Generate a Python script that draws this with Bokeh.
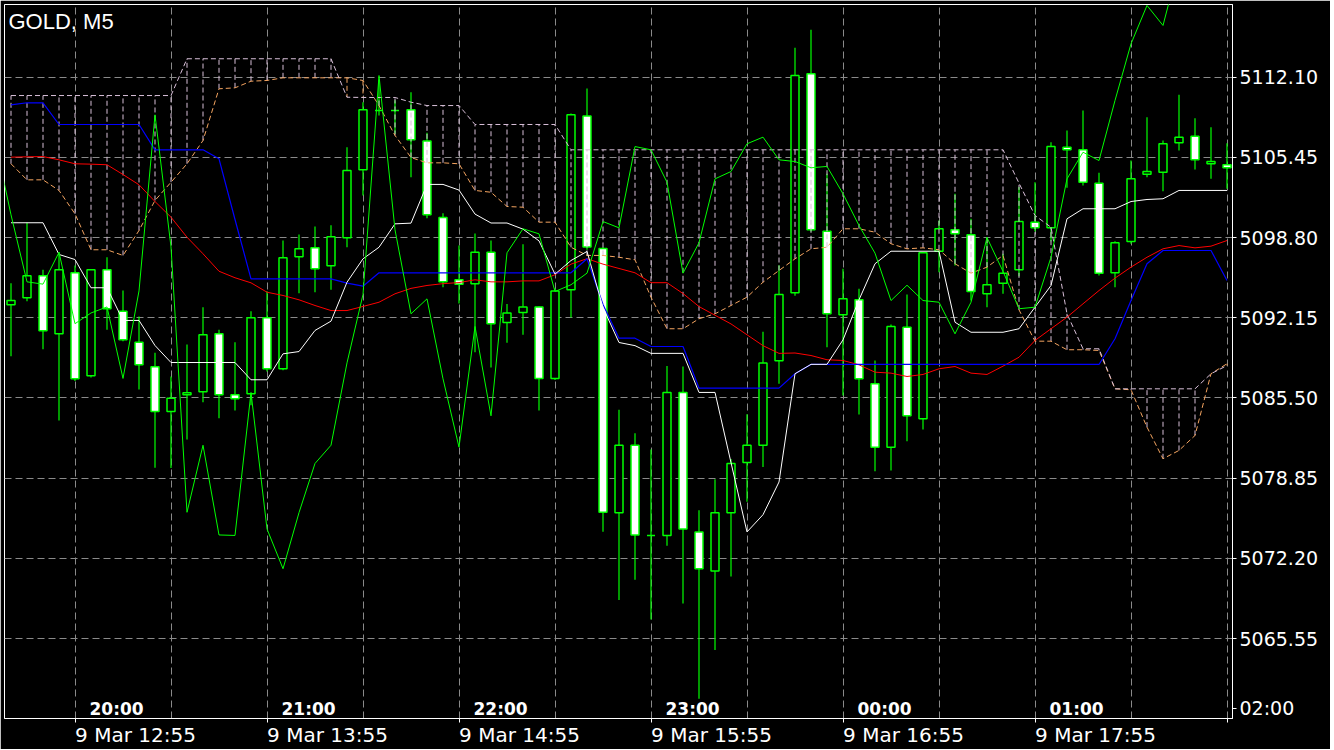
from bokeh.plotting import figure
from bokeh.models import (ColumnDataSource, FixedTicker, Label, Range1d, PrintfTickFormatter,
                          LinearAxis)
from bokeh.embed import file_html
from bokeh.resources import INLINE

# ---------------- data ----------------
open_ = [5093.23, 5093.81, 5095.63, 5090.82, 5095.88, 5087.34, 5096.13, 5092.70, 5090.13, 5088.09,
         5084.38, 5085.76, 5086.01, 5090.82, 5085.76, 5085.85, 5092.15, 5087.92, 5097.21, 5097.95,
         5096.46, 5098.78, 5104.42, 5109.34, 5109.34, 5109.40, 5106.82, 5100.46, 5095.30, 5094.98,
         5097.58, 5091.75, 5092.58, 5093.05, 5087.12, 5094.47, 5108.89, 5097.90, 5075.99, 5081.58,
         5074.10, 5074.10, 5085.96, 5074.39, 5071.15, 5075.99, 5080.14, 5081.58, 5088.58, 5094.23,
         5112.38, 5099.33, 5092.40, 5093.64, 5086.68, 5081.42, 5091.37, 5083.77, 5097.67, 5099.45,
         5099.03, 5094.14, 5095.02, 5096.13, 5100.08, 5099.61, 5106.30, 5106.08, 5103.31, 5095.88,
         5098.48, 5104.06, 5104.22, 5106.66, 5107.21, 5104.92, 5104.84]
high = [5095.02, 5100.03, 5096.13, 5097.60, 5096.49, 5096.20, 5097.17, 5094.41, 5092.26, 5089.25,
        5087.28, 5089.94, 5093.03, 5091.15, 5090.13, 5092.70, 5094.35, 5098.56, 5099.06, 5099.72,
        5099.83, 5106.30, 5110.03, 5111.90, 5110.20, 5110.86, 5107.50, 5100.81, 5098.14, 5099.15,
        5098.56, 5093.30, 5098.24, 5093.10, 5094.60, 5109.10, 5111.17, 5098.00, 5084.52, 5082.58,
        5081.22, 5088.15, 5088.12, 5076.19, 5078.77, 5080.43, 5084.16, 5091.00, 5096.50, 5114.54,
        5116.03, 5104.09, 5096.21, 5094.55, 5088.61, 5091.59, 5094.08, 5097.60, 5100.22, 5102.43,
        5100.36, 5098.83, 5097.46, 5103.00, 5103.39, 5106.71, 5107.68, 5109.34, 5104.17, 5098.50,
        5105.19, 5108.78, 5106.85, 5110.64, 5108.70, 5107.95, 5106.63]
low = [5088.97, 5093.53, 5089.55, 5083.63, 5086.90, 5087.20, 5091.15, 5090.20, 5086.20, 5079.71,
       5079.70, 5082.06, 5085.15, 5083.82, 5084.46, 5084.90, 5087.70, 5087.80, 5094.19, 5094.27,
       5094.47, 5098.00, 5102.29, 5108.92, 5107.40, 5103.81, 5100.40, 5094.68, 5093.34, 5089.30,
       5088.02, 5090.09, 5090.74, 5084.46, 5087.00, 5092.17, 5097.80, 5074.40, 5068.75, 5070.43,
       5067.13, 5073.24, 5068.46, 5060.55, 5064.61, 5070.69, 5076.90, 5079.78, 5086.68, 5093.97,
       5099.30, 5089.71, 5085.71, 5084.13, 5079.43, 5079.49, 5081.92, 5082.89, 5095.93, 5096.49,
       5093.58, 5093.03, 5094.14, 5095.60, 5099.30, 5098.50, 5102.93, 5103.12, 5095.66, 5094.69,
       5098.30, 5103.81, 5102.65, 5106.02, 5104.45, 5103.67, 5102.85]
close = [5093.58, 5095.63, 5091.07, 5096.13, 5087.09, 5096.13, 5092.90, 5090.32, 5088.25, 5084.38,
         5085.48, 5085.93, 5090.74, 5085.76, 5085.43, 5092.15, 5087.92, 5097.12, 5097.87, 5096.21,
         5098.87, 5104.36, 5109.40, 5109.34, 5109.34, 5106.91, 5100.69, 5095.13, 5094.94, 5097.58,
         5091.66, 5092.55, 5093.05, 5087.12, 5094.38, 5108.98, 5098.03, 5076.02, 5081.58, 5074.14,
         5074.10, 5085.96, 5074.64, 5071.34, 5075.99, 5080.07, 5081.58, 5088.41, 5094.08, 5112.24,
         5099.45, 5092.48, 5093.72, 5087.09, 5081.42, 5091.43, 5084.02, 5097.54, 5099.53, 5099.11,
         5094.33, 5094.89, 5095.85, 5100.13, 5099.61, 5106.35, 5106.08, 5103.39, 5095.85, 5098.37,
         5103.67, 5104.28, 5106.58, 5107.13, 5105.25, 5105.11, 5104.59]

# Tenkan-sen (white)
tenkan = [5100.03, 5100.03, 5100.03, 5097.40, 5096.98, 5094.64, 5094.64, 5091.93, 5091.93, 5089.85,
          5088.44, 5088.44, 5088.44, 5088.44, 5088.44, 5087.01, 5087.01, 5089.16, 5089.35, 5091.10,
          5091.87, 5095.10, 5097.04, 5098.00, 5099.94, 5100.00, 5103.21, 5103.21, 5102.74, 5100.75,
          5100.01, 5100.01, 5099.50, 5098.53, 5095.77, 5096.90, 5097.65, 5093.00, 5090.10, 5089.84,
          5089.20, 5089.20, 5089.20, 5085.96, 5085.96, 5080.14, 5074.39, 5075.82, 5078.53, 5087.51,
          5088.29, 5088.29, 5090.32, 5093.64, 5096.63, 5097.67, 5097.67, 5097.67, 5097.67, 5091.78,
          5090.95, 5090.95, 5090.95, 5091.24, 5093.03, 5094.83, 5100.36, 5101.19, 5101.19, 5101.19,
          5101.79, 5101.96, 5102.02, 5102.71, 5102.71, 5102.71, 5102.71]
# Kijun-sen (blue)
kijun = ([5109.81, 5109.98, 5109.98] + [5108.18] * 6 + [5106.08] * 4 + [5105.33, 5100.30]
         + [5095.38] * 6 + [5095.02, 5094.77] + [5095.88] * 13 + [5097.05, 5093.25, 5090.46, 5090.46]
         + [5089.77] * 3 + [5086.32] * 6 + [5087.51] + [5088.28] * 19
         + [5090.41, 5093.58, 5096.63] + [5097.73] * 4 + [5095.24])
# moving average (red)
ma_red = [5105.47, 5105.50, 5105.52, 5105.25, 5104.92, 5104.89, 5104.84, 5104.03, 5103.18, 5101.79,
          5100.49, 5098.83, 5097.46, 5096.01, 5095.47, 5095.05, 5094.27, 5094.00, 5093.64, 5093.17,
          5092.75, 5092.75, 5093.09, 5093.44, 5094.14, 5094.59, 5094.83, 5094.98, 5095.07, 5095.30,
          5095.13, 5095.13, 5095.21, 5095.21, 5095.72, 5096.60, 5097.05, 5096.60, 5096.24, 5095.88,
          5095.06, 5095.06, 5094.16, 5093.08, 5092.36, 5091.64, 5090.74, 5089.84, 5089.20, 5089.23,
          5089.02, 5088.67, 5088.61, 5088.25, 5087.64, 5087.56, 5087.28, 5087.45, 5087.92, 5088.11,
          5087.56, 5087.45, 5088.14, 5088.88, 5090.27, 5091.24, 5092.20, 5093.31, 5094.41, 5095.44,
          5096.35, 5097.17, 5097.87, 5098.14, 5097.95, 5098.09, 5098.56]
# Senkou span A (sandy brown) and B (thistle)
span_a = [5104.92, 5103.59, 5103.59, 5102.71, 5100.77, 5097.79, 5097.79, 5097.32, 5099.39, 5101.88,
          5103.39, 5104.92, 5106.85, 5111.14, 5111.22, 5111.77, 5111.83, 5112.05, 5112.05, 5112.05,
          5112.05, 5112.05, 5111.83, 5109.75, 5107.27, 5105.44, 5105.00, 5105.00, 5104.92, 5102.71,
          5102.56, 5101.38, 5101.32, 5100.08, 5100.08, 5098.00, 5097.32, 5097.32, 5097.17, 5096.96,
          5093.86, 5091.24, 5091.24, 5092.07, 5092.48, 5093.17, 5093.86, 5095.10, 5096.07, 5097.04,
          5097.87, 5098.00, 5099.53, 5099.53, 5099.25, 5098.29, 5097.87, 5097.95, 5097.79, 5096.63,
          5095.85, 5096.35, 5097.32, 5092.81, 5090.21, 5090.21, 5089.50, 5089.50, 5089.44, 5086.26,
          5086.18, 5083.08, 5080.46, 5081.15, 5082.39, 5087.51, 5088.34]
span_b = ([5110.58] * 11 + [5113.63] * 10 + [5110.44] + [5110.42] * 3 + [5110.03] + [5109.75] * 3
          + [5108.18] * 6 + [5106.08] * 28 + [5103.31, 5100.63, 5099.66, 5092.48, 5089.58, 5089.58]
          + [5086.26] * 6 + [5087.51, 5088.19])
# Chikou span continues past the last visible candle
chikou_tail = [5104.70, 5102.43, 5099.80, 5097.51, 5093.58, 5094.85, 5093.58, 5093.44, 5090.82, 5093.44,
               5098.80, 5096.00, 5092.90, 5093.03, 5097.17, 5103.67, 5105.88, 5105.19, 5110.17, 5114.87,
               5118.05, 5116.39, 5121.50]

price_ticks = [5065.55, 5072.20, 5078.85, 5085.50, 5092.15, 5098.80, 5105.45, 5112.10]
time_tick_bars = [4, 16, 28, 40, 52, 64, 76]
upper_time_labels = ["20:00", "21:00", "22:00", "23:00", "00:00", "01:00", "02:00"]
lower_time_labels = ["9 Mar 12:55", "9 Mar 13:55", "9 Mar 14:55", "9 Mar 15:55", "9 Mar 16:55", "9 Mar 17:55"]
SHIFT = 26

# ---------------- figure ----------------
n = len(close)
bars = list(range(n))
FW, FH = 1228, 714
X0 = -0.40625
X1 = X0 + FW / 16.0
Y_TOP, Y_BOT = 5118.13, 5058.92
TOP_PAD = 4


def py(page_y):
    return Y_TOP - (page_y - TOP_PAD) * (Y_TOP - Y_BOT) / FH


p = figure(frame_width=FW, frame_height=FH, x_range=Range1d(X0, X1), y_range=Range1d(Y_BOT, Y_TOP),
           y_axis_location="right", output_backend="svg", toolbar_location=None,
           min_border_left=4, min_border_top=4, min_border_right=98, min_border_bottom=30,
           background_fill_color="black", border_fill_color="black",
           outline_line_color="white", outline_line_width=1)

# grid
p.ygrid.ticker = FixedTicker(ticks=price_ticks)
p.xgrid.ticker = FixedTicker(ticks=list(range(4, 77, 6)))
for g in (p.xgrid, p.ygrid):
    g.grid_line_color = "#8a8a8a"
    g.grid_line_dash = "7 4"
    g.grid_line_width = 1

# right axis (price) + the last upper time label sitting in that margin
label_row_y = round(py(708), 2)
ya = p.yaxis[0]
ya.ticker = FixedTicker(ticks=price_ticks + [label_row_y])
ya.formatter = PrintfTickFormatter(format="%.2f")
ya.major_label_overrides = {label_row_y: upper_time_labels[-1]}
ya.major_label_text_font = "DejaVu Sans"
ya.major_label_text_font_size = "19px"
ya.major_label_text_color = "white"
ya.major_tick_out = 4
ya.major_tick_in = 0
ya.minor_tick_out = 0
ya.minor_tick_in = 0
ya.major_label_standoff = 3
ya.axis_line_color = "white"
ya.major_tick_line_color = "white"

# bottom axis: tick marks only
xa = p.xaxis[0]
xa.ticker = FixedTicker(ticks=time_tick_bars)
xa.major_label_overrides = {t: "" for t in time_tick_bars}
xa.major_label_text_font_size = "1px"
xa.major_tick_out = 4
xa.major_tick_in = 0
xa.minor_tick_out = 0
xa.minor_tick_in = 0
xa.axis_line_color = "white"
xa.major_tick_line_color = "white"
xa.major_label_standoff = 0

# second bottom axis: date labels, left-aligned on the tick marks
half_label = 3.78
date_pos = [t + half_label for t in time_tick_bars[:len(lower_time_labels)]]
xb = LinearAxis(ticker=FixedTicker(ticks=date_pos),
                major_label_overrides={pos: lab for pos, lab in zip(date_pos, lower_time_labels)},
                major_label_text_font="DejaVu Sans", major_label_text_font_size="20px",
                major_label_text_color="white", major_tick_out=0, major_tick_in=0,
                minor_tick_out=0, minor_tick_in=0, axis_line_color=None,
                major_label_standoff=0)
p.add_layout(xb, "below")

# candles
body_top = [max(o, c) for o, c in zip(open_, close)]
body_bot = [min(o, c) for o, c in zip(open_, close)]
fills = ["white" if c < o else "black" for o, c in zip(open_, close)]
csrc = ColumnDataSource(dict(x=bars, high=high, low=low, top=body_top, bottom=body_bot, fill=fills))
p.segment(x0="x", y0="low", x1="x", y1="high", source=csrc, line_color="#00ff00", line_width=1.2)
p.vbar(x="x", width=0.5, top="top", bottom="bottom", source=csrc,
       fill_color="fill", line_color="#00ff00", line_width=1.5)

# cloud hatch + spans
hatch_col = ["#F4A460" if a > b else "#D8BFD8" for a, b in zip(span_a, span_b)]
ksrc = ColumnDataSource(dict(x=bars, a=span_a, b=span_b, c=hatch_col))
p.segment(x0="x", y0="a", x1="x", y1="b", source=ksrc, line_color="c", line_width=1, line_dash="5 3")
p.line(bars, span_a, line_color="#F4A460", line_width=1, line_dash="5 3")
p.line(bars, span_b, line_color="#D8BFD8", line_width=1, line_dash="5 3")

# indicator lines
p.line(bars, ma_red, line_color="#ff0000", line_width=1)
p.line(bars, kijun, line_color="#0000ff", line_width=1.2)
p.line(bars, tenkan, line_color="white", line_width=1)
chikou = close[SHIFT - 1:] + chikou_tail
chikou_x = list(range(-1, -1 + len(chikou)))
p.line(chikou_x, chikou, line_color="#00ff00", line_width=1)

# texts inside the frame
p.add_layout(Label(x=X0, y=py(21), x_offset=4, text="GOLD, M5", text_color="white",
                   text_font="Liberation Sans", text_font_size="22px", text_baseline="middle",
                   text_align="left"))
for t, lab in zip(time_tick_bars[:-1], upper_time_labels[:-1]):
    p.add_layout(Label(x=t + 2.6, y=py(708), text=lab, text_color="white", text_font="DejaVu Sans",
                       text_font_size="17px", text_font_style="bold", text_baseline="middle",
                       text_align="center"))

open("out.html", "w").write(file_html(p, INLINE))
